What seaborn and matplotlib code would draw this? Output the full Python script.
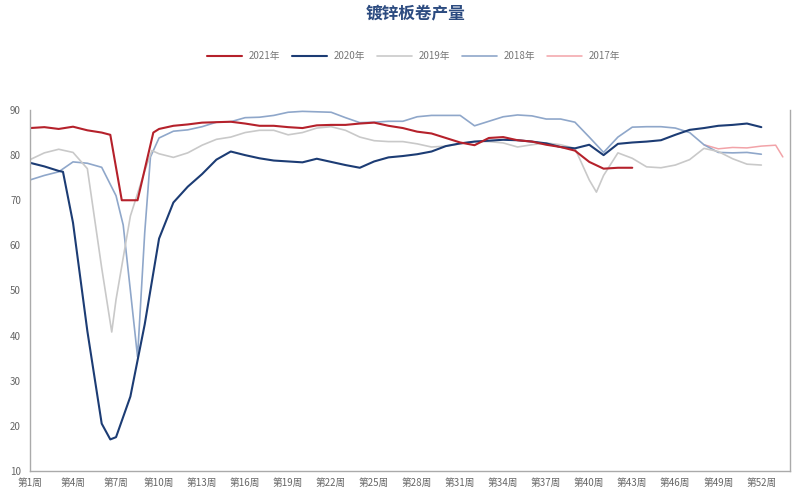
import pandas as pd
import matplotlib.pyplot as plt
import seaborn as sns

# 周度数据
weeks_2021 = [1, 2, 3, 4, 5, 6, 6.6, 7.4, 8.5, 9.6] + list(range(10, 44))
vals_2021 = [86, 86.2, 85.8, 86.3, 85.5, 85, 84.5, 70, 70, 85,
             85.8, 86.5, 86.8, 87.2, 87.3, 87.4, 87, 86.5, 86.5, 86.2,
             86, 86.6, 86.7, 86.7, 87, 87.2, 86.5, 86, 85.2, 84.8,
             83.8, 82.8, 82.2, 83.8, 84, 83.3, 83, 82.3, 81.8, 81,
             78.5, 77, 77.2, 77.2]

weeks_2020 = [1, 2, 3, 3.3, 4, 5, 6, 6.6] + list(range(7, 53))
vals_2020 = [78.3, 77.5, 76.5, 76.3, 65, 41, 20.5, 17,
             17.5, 26.5, 42.5, 61.5, 69.5, 73, 75.8, 79, 80.8, 80,
             79.3, 78.8, 78.6, 78.4, 79.2, 78.5, 77.8, 77.2, 78.6, 79.5,
             79.8, 80.2, 80.8, 82, 82.6, 83, 83.2, 83.4, 83.3, 83,
             82.6, 81.8, 81.5, 82.3, 80, 82.5, 82.8, 83, 83.3, 84.5,
             85.6, 86, 86.5, 86.7, 87, 86.2]

weeks_2019 = [1, 2, 3, 4, 5, 6, 6.7, 7, 8, 9, 9.5] + list(range(10, 41)) + [40.5] + list(range(41, 53))
vals_2019 = [79, 80.5, 81.3, 80.6, 77, 55, 40.8, 48, 66.5, 76.5, 81,
             80.3, 79.5, 80.5, 82.2, 83.5, 84, 85, 85.5, 85.5, 84.5,
             85, 86, 86.3, 85.5, 84, 83.2, 83, 83, 82.5, 81.8,
             82, 82.5, 83, 83, 82.7, 81.8, 82.3, 82.7, 82.3, 81.5,
             74.5, 71.8,
             75.5, 80.5, 79.3, 77.4, 77.2, 77.8, 79, 81.5, 80.8, 79.2,
             78, 77.8]

weeks_2018 = [1, 2, 3, 4, 5, 6, 7, 7.5, 8, 8.5, 9, 9.4] + list(range(10, 53))
vals_2018 = [74.5, 75.5, 76.3, 78.5, 78.2, 77.3, 71, 64.5, 50, 35.3, 62.8, 79.6,
             83.8, 85.3, 85.6, 86.3, 87.3, 87.4, 88.3, 88.4, 88.8, 89.5,
             89.7, 89.6, 89.5, 88.3, 87.2, 87.3, 87.5, 87.5, 88.5, 88.8,
             88.8, 88.8, 86.5, 87.5, 88.5, 88.9, 88.7, 88, 88, 87.3,
             84, 80.6, 84, 86.2, 86.3, 86.3, 86, 85, 82.3, 80.6,
             80.5, 80.6, 80.2]

weeks_2017 = [48, 49, 50, 51, 52, 53, 53.5]
vals_2017 = [82.3, 81.4, 81.7, 81.6, 82, 82.2, 79.6]

years = ['2021年', '2020年', '2019年', '2018年', '2017年']
colors = ['#B5212B', '#1C3C74', '#C9C9C9', '#8FA7CA', '#F2A3A8']
widths = [1.5, 1.5, 1.2, 1.2, 1.1]
tick_weeks = list(range(1, 53, 3))

series = {
    '2021年': (weeks_2021, vals_2021),
    '2020年': (weeks_2020, vals_2020),
    '2019年': (weeks_2019, vals_2019),
    '2018年': (weeks_2018, vals_2018),
    '2017年': (weeks_2017, vals_2017),
}

sns.set_style('white')
plt.rcParams['font.family'] = ['Noto Sans CJK SC', 'DejaVu Sans']

fig = plt.figure(figsize=(8, 5), dpi=100)
ax = fig.add_axes([0.0375, 0.058, 0.95, 0.722])

# 先画旧年份, 让2021在最上层
handles = {}
for year, color, lw in list(zip(years, colors, widths))[::-1]:
    x, y = series[year]
    df = pd.DataFrame({'周': x, '产量': y})
    sns.lineplot(data=df, x='周', y='产量', color=color, lw=lw, ax=ax,
                 label=year, sort=False)
    handles[year] = ax.lines[-1]

ax.get_legend().remove()
ax.set_xlim(1, 54)
ax.set_ylim(10, 90)
ax.set_yticks(range(10, 91, 10))
ax.set_xticks(tick_weeks)
ax.set_xticklabels([f'第{w}周' for w in tick_weeks])
ax.set_xlabel('')
ax.set_ylabel('')
ax.tick_params(axis='both', colors='#999999', labelcolor='#666666',
               labelsize=7, length=3, width=0.8, direction='out')
ax.tick_params(axis='x', pad=2)
for side in ['left', 'bottom', 'right']:
    ax.spines[side].set_color('#AAAAAA')
    ax.spines[side].set_linewidth(1)
ax.spines['top'].set_visible(False)

fig.text(0.52, 0.972, '镀锌板卷产量', ha='center', va='center',
         fontsize=12, fontweight='bold', color='#2C4B80')

fig.legend([handles[y] for y in years], years, loc='center', ncol=5,
           bbox_to_anchor=(0.517, 0.888), frameon=False, fontsize=7,
           labelcolor='#777777', handlelength=3.6, columnspacing=1.3,
           handletextpad=0.6)

plt.savefig('out.png', dpi=100)
